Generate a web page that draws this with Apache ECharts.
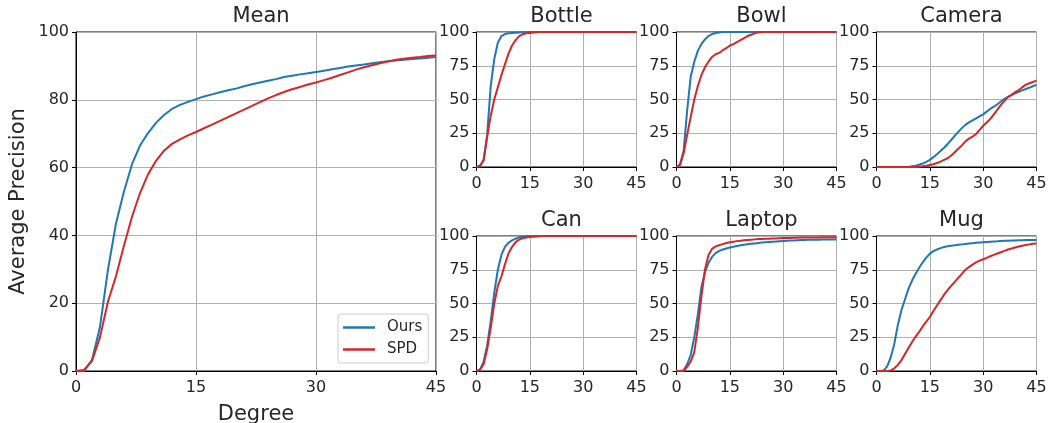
<!DOCTYPE html>
<html><head><meta charset="utf-8">
<script src="https://cdn.jsdelivr.net/npm/echarts@6/dist/echarts.min.js"></script>
<style>html,body{margin:0;padding:0;background:#fff}#c{width:1048px;height:423px}</style>
</head><body><div id="c"></div>
<script>
const DEGREES = [0,1,2,3,4,5,6,7,8,9,10,11,12,13,14,15,16,17,18,19,20,21,22,23,24,25,26,27,28,29,30,31,32,33,34,35,36,37,38,39,40,41,42,43,44,45];
const PANELS = ['Mean','Bottle','Bowl','Camera','Can','Laptop','Mug'];
const SERIES_NAMES = ['Ours','SPD'];
const X_TICKS = [0,15,30,45];

const meanOurs = [0,0,3.3,13,30,43.5,53,61,66.5,70.2,73.2,75.5,77.3,78.5,79.4,80.2,81,81.6,82.2,82.8,83.3,84,84.6,85.1,85.6,86.1,86.7,87.1,87.5,87.8,88.2,88.6,89,89.4,89.8,90.1,90.4,90.8,91.1,91.4,91.6,91.8,92,92.2,92.4,92.6];
const meanSPD = [0,0.3,3,10,20.5,28,37,45.5,52.5,58,62,65,67,68.3,69.5,70.5,71.6,72.7,73.8,74.9,76,77.1,78.2,79.3,80.4,81.4,82.3,83.1,83.8,84.5,85.1,85.8,86.5,87.3,88.1,88.9,89.6,90.2,90.8,91.3,91.8,92.1,92.4,92.6,92.9,93.1];

const bottleOurs = [0,0.5,5,24,60,80,92,97,98.5,99,99.3,99.5,99.7,99.8,99.9,100,100,100,100,100,100,100,100,100,100,100,100,100,100,100,100,100,100,100,100,100,100,100,100,100,100,100,100,100,100,100];
const bottleSPD = [0,1,5,22,38,50,59,68,76,84,90,94,97,98.3,99,99.3,99.6,99.8,100,100,100,100,100,100,100,100,100,100,100,100,100,100,100,100,100,100,100,100,100,100,100,100,100,100,100,100];

const bowlOurs = [0,2,12,42,67,78,86,91,94.5,97,98.5,99.3,99.7,100,100,100,100,100,100,100,100,100,100,100,100,100,100,100,100,100,100,100,100,100,100,100,100,100,100,100,100,100,100,100,100,100];
const bowlSPD = [0,1.5,10,24,37,50,60,68,74,78,81.5,83.5,84.5,86.5,88,90,91,92.5,94,95.5,97,98,99,99.7,100,100,100,100,100,100,100,100,100,100,100,100,100,100,100,100,100,100,100,100,100,100];

const cameraOurs = [0,0,0,0,0,0,0,0,0,0,0.5,1,1.7,2.6,3.8,5.3,7.3,9.5,11.8,14.3,17,20,23,26,28.8,31.2,33,34.5,36,37.5,39,41,43,44.7,46.5,48.5,50.5,52,53.3,54.5,55.7,56.8,57.8,58.8,59.8,60.8];
const cameraSPD = [0,0,0,0,0,0,0,0,0,0,0,0,0.2,0.5,1,1.5,2,3,4,5.3,6.5,8.5,11,13.5,16,19,21,22.5,24.5,27.5,30.5,33,35.5,39,42.5,46,49,52,53.5,55.5,57,59,61,62,63,64];

const canOurs = [0,1,7,19,37,58,75,86,92,95,96.8,98,99,99.5,99.8,100,100,100,100,100,100,100,100,100,100,100,100,100,100,100,100,100,100,100,100,100,100,100,100,100,100,100,100,100,100,100];
const canSPD = [0,1,5,16,32,50,63,70,79,87,92,95.5,97.3,98.3,98.8,99.2,99.5,99.7,99.8,100,100,100,100,100,100,100,100,100,100,100,100,100,100,100,100,100,100,100,100,100,100,100,100,100,100,100];

const laptopOurs = [0,0,0.5,5,12,25,42,62,73,80,84.5,87.3,89,90,90.8,91.5,92,92.6,93.1,93.5,93.9,94.2,94.5,94.8,95.1,95.3,95.5,95.7,95.9,96.1,96.3,96.5,96.6,96.7,96.9,97,97.1,97.2,97.2,97.3,97.3,97.4,97.4,97.5,97.5,97.5];
const laptopSPD = [0,0,0,3,7,14,32,55,75,86,90.5,92.3,93.2,94,94.8,95.3,95.8,96.2,96.5,96.8,97.1,97.3,97.5,97.7,97.8,97.9,98,98.1,98.2,98.4,98.5,98.6,98.6,98.7,98.7,98.8,98.8,98.8,98.9,98.9,98.9,99,99,99,99,99];

const mugOurs = [0,0,0.3,3.5,10,20,34,45,53,61,67,72,76.5,80.5,84,87,88.8,90,91,91.8,92.4,92.8,93.1,93.5,93.8,94.1,94.4,94.7,95,95.2,95.4,95.6,95.8,96,96.1,96.3,96.4,96.5,96.6,96.7,96.8,96.9,97,97,97.1,97.1];
const mugSPD = [0,0,0,0,0.3,2,4.5,8,12.5,17,21.5,25.5,29,33,36.5,40,44.5,48.5,52.5,56.5,60,63,66,69,72,75,77,78.8,80.5,81.8,82.8,83.8,85,86,87,88,89,90,90.7,91.5,92.2,92.8,93.3,93.8,94.2,94.5];

const PANEL_DATA = [
  [meanOurs, meanSPD],[bottleOurs, bottleSPD],[bowlOurs, bowlSPD],[cameraOurs, cameraSPD],
  [canOurs, canSPD],[laptopOurs, laptopSPD],[mugOurs, mugSPD]
];

const COLORS = ['#1f77b4','#d62728'];
const FONT = 'DejaVu Sans';
const TXT = '#262626';

// layout [left, top, width, height]
const LAYOUT = [
  [76, 32, 360, 339],
  [476.5, 32, 160, 135],
  [676.5, 32, 160, 135],
  [876.5, 32, 160, 135],
  [476.5, 236, 160, 135],
  [676.5, 236, 160, 135],
  [876.5, 236, 160, 135]
];

const grids = [], xAxes = [], yAxes = [], series = [], titles = [];
LAYOUT.forEach((L, i) => {
  grids.push({left: L[0], top: L[1], width: L[2], height: L[3], show: true, borderColor: '#000', borderWidth: 1,
    backgroundColor: 'transparent', containLabel: false, outerBoundsMode: 'none'});
  titles.push({text: PANELS[i], left: L[0] + L[2]/2, top: L[1] - 31, textAlign: 'center',
    textStyle: {fontFamily: FONT, fontSize: 21, fontWeight: 'normal', color: TXT}});
  const main = i === 0;
  xAxes.push({type: 'value', gridIndex: i, min: 0, max: 45, interval: 15,
    name: main ? 'Degree' : '', nameLocation: 'middle', nameGap: 33,
    nameTextStyle: {fontFamily: FONT, fontSize: 21, color: TXT},
    axisLine: {show: true, onZero: false, lineStyle: {color: '#000', width: 1}},
    axisTick: {show: true, length: 4, lineStyle: {color: '#000'}},
    axisLabel: {fontFamily: FONT, fontSize: 16, color: TXT, margin: 9, showMaxLabel: true, showMinLabel: true},
    splitLine: {show: true, lineStyle: {color: '#b0b0b0', width: 1}}
  });
  yAxes.push({type: 'value', gridIndex: i, min: 0, max: 100, interval: main ? 20 : 25,
    name: main ? 'Average Precision' : '', nameLocation: 'middle', nameGap: 47,
    nameTextStyle: {fontFamily: FONT, fontSize: 21, color: TXT},
    axisLine: {show: true, onZero: false, lineStyle: {color: '#000', width: 1}},
    axisTick: {show: true, length: 4, lineStyle: {color: '#000'}},
    axisLabel: {fontFamily: FONT, fontSize: 16, color: TXT, margin: 7},
    splitLine: {show: true, lineStyle: {color: '#b0b0b0', width: 1}}
  });
  PANEL_DATA[i].forEach((vals, k) => {
    series.push({type: 'line', name: SERIES_NAMES[k], xAxisIndex: i, yAxisIndex: i,
      data: DEGREES.map((d, j) => [d, vals[j]]),
      symbol: 'none', smooth: false, color: COLORS[k],
      lineStyle: {width: 2, color: COLORS[k]}, animation: false, z: 3});
  });
});

const chart = echarts.init(document.getElementById('c'), null, {renderer: 'canvas'});
chart.setOption({
  animation: false,
  backgroundColor: '#fff',
  title: titles,
  grid: grids,
  xAxis: xAxes,
  yAxis: yAxes,
  series: series,
  legend: {
    data: SERIES_NAMES.map(n => ({name: n, icon: 'rect'})), orient: 'vertical', left: 338, top: 314,
    itemWidth: 32, itemHeight: 2.5, itemGap: 5,
    padding: [5, 6, 5, 5],
    backgroundColor: 'rgba(255,255,255,0.85)', borderColor: '#cccccc', borderWidth: 1, borderRadius: 3,
    textStyle: {fontFamily: FONT, fontSize: 15, lineHeight: 17, color: TXT, padding: [0, 0, 0, 7]}
  }
});
</script></body></html>
